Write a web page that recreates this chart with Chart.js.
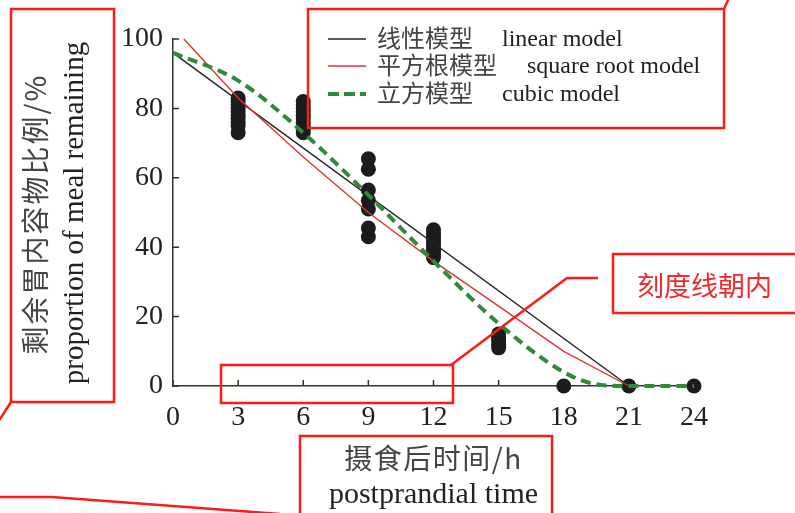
<!DOCTYPE html>
<html>
<head>
<meta charset="utf-8">
<script src="https://cdn.jsdelivr.net/npm/chart.js@4.4.1/dist/chart.umd.min.js"></script>
<style>
  html, body { margin: 0; padding: 0; background: #fff; }
  #wrap { width: 795px; height: 513px; }
</style>
</head>
<body>
<div id="wrap"><canvas id="c" width="795" height="513"></canvas></div>
<script>
// Axis ticks
const xTicks = [0, 3, 6, 9, 12, 15, 18, 21, 24];
const yTicks = [0, 20, 40, 60, 80, 100];

// Observed proportion of meal remaining (%) at each sampling time (h)
const sampleHours = [3, 6, 9, 12, 15, 18, 21, 24];
const remaining3h  = [73, 75, 76, 77, 78, 79, 80, 81, 82, 83];
const remaining6h  = [73, 74, 75, 76, 77, 78, 79, 80, 81, 82];
const remaining9h  = [43, 45.5, 51, 53.5, 56.5, 62.5, 65.5];
const remaining12h = [37, 38, 39, 40, 41, 42, 43, 44, 45];
const remaining15h = [11, 12, 13, 14, 15];
const remaining18h = [0];
const remaining21h = [0];
const remaining24h = [0];
const remainingByHour = [remaining3h, remaining6h, remaining9h, remaining12h,
                         remaining15h, remaining18h, remaining21h, remaining24h];

// Model curves
const linearHours = [0, 21];
const linearFit   = [96, 0];
const sqrtHours   = [0.5, 3, 6, 9, 12, 15, 18, 21];
const sqrtFit     = [100, 83, 66, 50, 36, 23, 10, 0];
const cubicHours  = [0, 3, 6, 9, 12, 15, 18, 19.5, 21, 24];
const cubicFit    = [96, 88, 73, 55, 36, 18, 4, 0.5, 0, 0];

const toXY = (xs, ys) => xs.map((v, i) => ({ x: v, y: ys[i] }));
const observations = [];
sampleHours.forEach((h, i) => remainingByHour[i].forEach(v => observations.push({ x: h, y: v })));

const SERIF = '"Liberation Serif", "Times New Roman", serif';
const CJK = '"Noto Sans CJK SC", sans-serif';
const RED = '#ff1a1a';

const COLORS = { linear: '#222222', sqrt: '#e0352f', cubic: '#2f8a3c' };

const legendItems = [
  { zh: '线性模型',   en: 'linear model',      enX: 502, color: COLORS.linear, width: 1.4, dash: [] },
  { zh: '平方根模型', en: 'square root model', enX: 527, color: COLORS.sqrt,   width: 1.4, dash: [] },
  { zh: '立方模型',   en: 'cubic model',       enX: 502, color: COLORS.cubic,  width: 4,   dash: [11, 5] }
];

const decorations = {
  id: 'decorations',
  beforeDatasetsDraw(chart) {
    // inward-pointing tick marks
    const { ctx, scales: { x, y } } = chart;
    ctx.save();
    ctx.strokeStyle = '#333';
    ctx.lineWidth = 1.5;
    ctx.beginPath();
    xTicks.forEach(v => {
      const px = x.getPixelForValue(v);
      ctx.moveTo(px, y.bottom);
      ctx.lineTo(px, y.bottom - 6);
    });
    yTicks.forEach(v => {
      const py = y.getPixelForValue(v);
      ctx.moveTo(x.left, py);
      ctx.lineTo(x.left + 6, py);
    });
    ctx.stroke();
    ctx.restore();
  },
  afterDraw(chart) {
    const { ctx, chartArea } = chart;
    ctx.save();

    // y-axis title (two lines, rotated)
    ctx.save();
    ctx.translate(46, 214);
    ctx.rotate(-Math.PI / 2);
    ctx.textAlign = 'center';
    ctx.textBaseline = 'alphabetic';
    ctx.fillStyle = '#444';
    ctx.font = '28px ' + CJK;
    ctx.letterSpacing = '2px';
    ctx.fillText('剩余胃内容物比例/%', 0, 0);
    ctx.restore();

    ctx.save();
    ctx.translate(83, 213);
    ctx.rotate(-Math.PI / 2);
    ctx.textAlign = 'center';
    ctx.textBaseline = 'alphabetic';
    ctx.fillStyle = '#222';
    ctx.font = '29px ' + SERIF;
    ctx.fillText('proportion of meal remaining', 0, 0);
    ctx.restore();

    // x-axis title, centred under the plot
    const cx = (chartArea.left + chartArea.right) / 2;
    ctx.save();
    ctx.textAlign = 'center';
    ctx.textBaseline = 'alphabetic';
    ctx.fillStyle = '#444';
    ctx.font = '28px ' + CJK;
    ctx.letterSpacing = '1.5px';
    ctx.fillText('摄食后时间/h', cx, 469);
    ctx.restore();
    ctx.textAlign = 'center';
    ctx.textBaseline = 'alphabetic';
    ctx.fillStyle = '#222';
    ctx.font = '30px ' + SERIF;
    ctx.fillText('postprandial time', cx, 503);

    // legend
    ctx.textAlign = 'left';
    const rows = [39, 66, 94];
    legendItems.forEach((it, i) => {
      const cy = rows[i];
      ctx.beginPath();
      ctx.strokeStyle = it.color;
      ctx.lineWidth = it.width;
      ctx.setLineDash(it.dash);
      ctx.moveTo(328, cy);
      ctx.lineTo(366, cy);
      ctx.stroke();
      ctx.setLineDash([]);
      ctx.fillStyle = '#444';
      ctx.font = '24px ' + CJK;
      ctx.fillText(it.zh, 377, cy + 8);
      ctx.fillStyle = '#222';
      ctx.font = '24px ' + SERIF;
      ctx.fillText(it.en, it.enX, cy + 7);
    });

    // red annotation frames and leader lines
    ctx.strokeStyle = RED;
    ctx.lineWidth = 2.5;
    ctx.strokeRect(11, 9, 103, 393);
    ctx.strokeRect(308, 9, 416, 119);
    ctx.strokeRect(221, 365, 232, 38);
    ctx.strokeRect(613, 254, 200, 59);
    ctx.strokeRect(300, 436, 252, 100);

    ctx.beginPath();
    ctx.moveTo(11, 402); ctx.lineTo(-2, 422);
    ctx.moveTo(724, 9); ctx.lineTo(729, -2);
    ctx.moveTo(451, 365); ctx.lineTo(567, 278); ctx.lineTo(598, 278);
    ctx.moveTo(-2, 497); ctx.lineTo(52, 497); ctx.lineTo(280, 514);
    ctx.stroke();

    ctx.fillStyle = '#f02a2a';
    ctx.font = '27px ' + CJK;
    ctx.textAlign = 'left';
    ctx.fillText('刻度线朝内', 637, 296);

    ctx.restore();
  }
};

new Chart(document.getElementById('c'), {
  type: 'scatter',
  data: {
    datasets: [
      {
        label: 'cubic model',
        data: toXY(cubicHours, cubicFit),
        showLine: true,
        borderColor: COLORS.cubic,
        borderWidth: 4,
        borderDash: [10, 6],
        cubicInterpolationMode: 'monotone',
        pointRadius: 0,
        fill: false,
        order: 1,
        clip: false
      },
      {
        label: 'square root model',
        data: toXY(sqrtHours, sqrtFit),
        showLine: true,
        borderColor: COLORS.sqrt,
        borderWidth: 1.4,
        tension: 0,
        pointRadius: 0,
        order: 2,
        clip: false
      },
      {
        label: 'linear model',
        data: toXY(linearHours, linearFit),
        showLine: true,
        borderColor: COLORS.linear,
        borderWidth: 1.4,
        pointRadius: 0,
        order: 3,
        clip: false
      },
      {
        label: 'observed',
        data: observations,
        showLine: false,
        pointRadius: 7.5,
        pointBackgroundColor: '#1c1c1c',
        pointBorderWidth: 0,
        order: 4,
        clip: false
      }
    ]
  },
  options: {
    responsive: false,
    animation: false,
    events: [],
    layout: { padding: { left: 0, top: 39, right: 101, bottom: 0 } },
    plugins: { legend: { display: false }, tooltip: { enabled: false } },
    scales: {
      x: {
        type: 'linear',
        min: 0, max: 24,
        afterBuildTicks: s => { s.ticks = xTicks.map(v => ({ value: v })); },
        afterFit: s => { s.height = 127; },
        grid: { display: true, drawOnChartArea: false, drawTicks: false },
        border: { display: true, color: '#333', width: 1.5 },
        ticks: {
          autoSkip: false, maxRotation: 0, padding: 15,
          color: '#222', font: { family: SERIF, size: 28 }
        }
      },
      y: {
        type: 'linear',
        min: 0, max: 100,
        afterBuildTicks: s => { s.ticks = yTicks.map(v => ({ value: v })); },
        afterFit: s => { s.width = 173; },
        grid: { display: true, drawOnChartArea: false, drawTicks: false },
        border: { display: true, color: '#333', width: 1.5 },
        ticks: {
          autoSkip: false, padding: 10,
          color: '#222', font: { family: SERIF, size: 28 }
        }
      }
    }
  },
  plugins: [decorations]
});
</script>
</body>
</html>
